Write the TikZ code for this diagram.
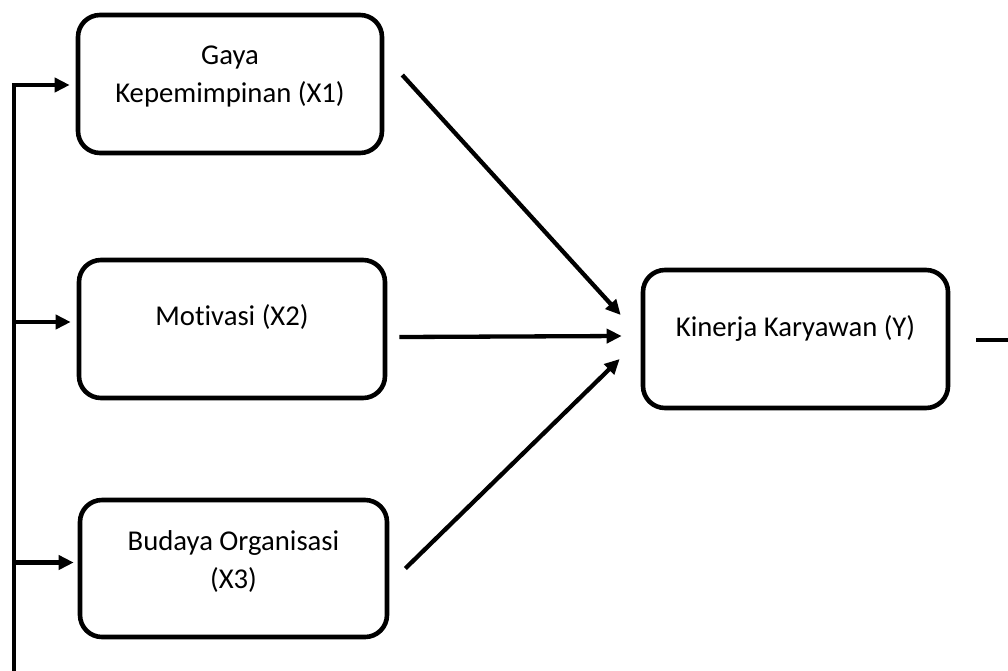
\documentclass[tikz,border=0pt]{standalone}
\usepackage{fontspec}
\setmainfont{Carlito}[Ligatures=NoCommon]
\usetikzlibrary{arrows.meta,calc}
\begin{document}
\begin{tikzpicture}[x=1pt,y=-1pt,
  box/.style={draw=black,line width=4.6pt,rounded corners=22pt,minimum width=304pt,minimum height=138pt,inner sep=0pt,fill=white},
  txt/.style={font=\fontsize{28.7}{38}\selectfont,align=center,text=black},
  con/.style={line width=4.3pt,-{Triangle[length=15pt,width=14pt]}},
  ln/.style={line width=4.3pt}]
\useasboundingbox (0,0) rectangle (1008,670);
\node[box] (X1) at (230,84) {};
\node[box,minimum width=306pt] (X2) at (232,329) {};
\node[box,minimum width=307pt,minimum height=137pt] (X3) at (233.5,568.5) {};
\node[box,minimum width=305pt] (Y) at (795.5,339) {};
\node[txt] (t1) at ($(X1)+(0,-8)$) {Gaya\\Kepemimpinan (X1)};
\node[txt] (t2) at ($(X2)+(0,-12)$) {Motivasi (X2)};
\node[txt] (t3) at ($(X3)+(0,-7)$) {Budaya Organisasi\\(X3)};
\node[txt] (t4) at ($(Y)+(0,-11)$) {Kinerja Karyawan (Y)};
\coordinate (bot) at (14,672);
\coordinate (top) at (14,85);
\draw[ln] (bot) -- (top);
\draw[con] ($(top)+(-2.15,0)$) -- ($(X1.west)+(-6,1)$);
\draw[con] (top|-{$(X2.west)+(0,-7)$}) -- ($(X2.west)+(-6,-7)$);
\draw[con] (top|-{$(X3.west)+(0,-6)$}) -- ($(X3.west)+(-4,-6)$);
\draw[con] ($(X1.east)+(18,-9)$) -- ($(Y.west)+(-20,-24)$);
\draw[con] ($(X2.east)+(12,8)$) -- ($(Y.west)+(-19,-3)$);
\draw[con] ($(X3.east)+(16,0)$) -- ($(Y.west)+(-21,20)$);
\coordinate (out) at (1008,340);
\draw[ln] ($(Y.east)+(26,1)$) -- (out);
\end{tikzpicture}
\end{document}
